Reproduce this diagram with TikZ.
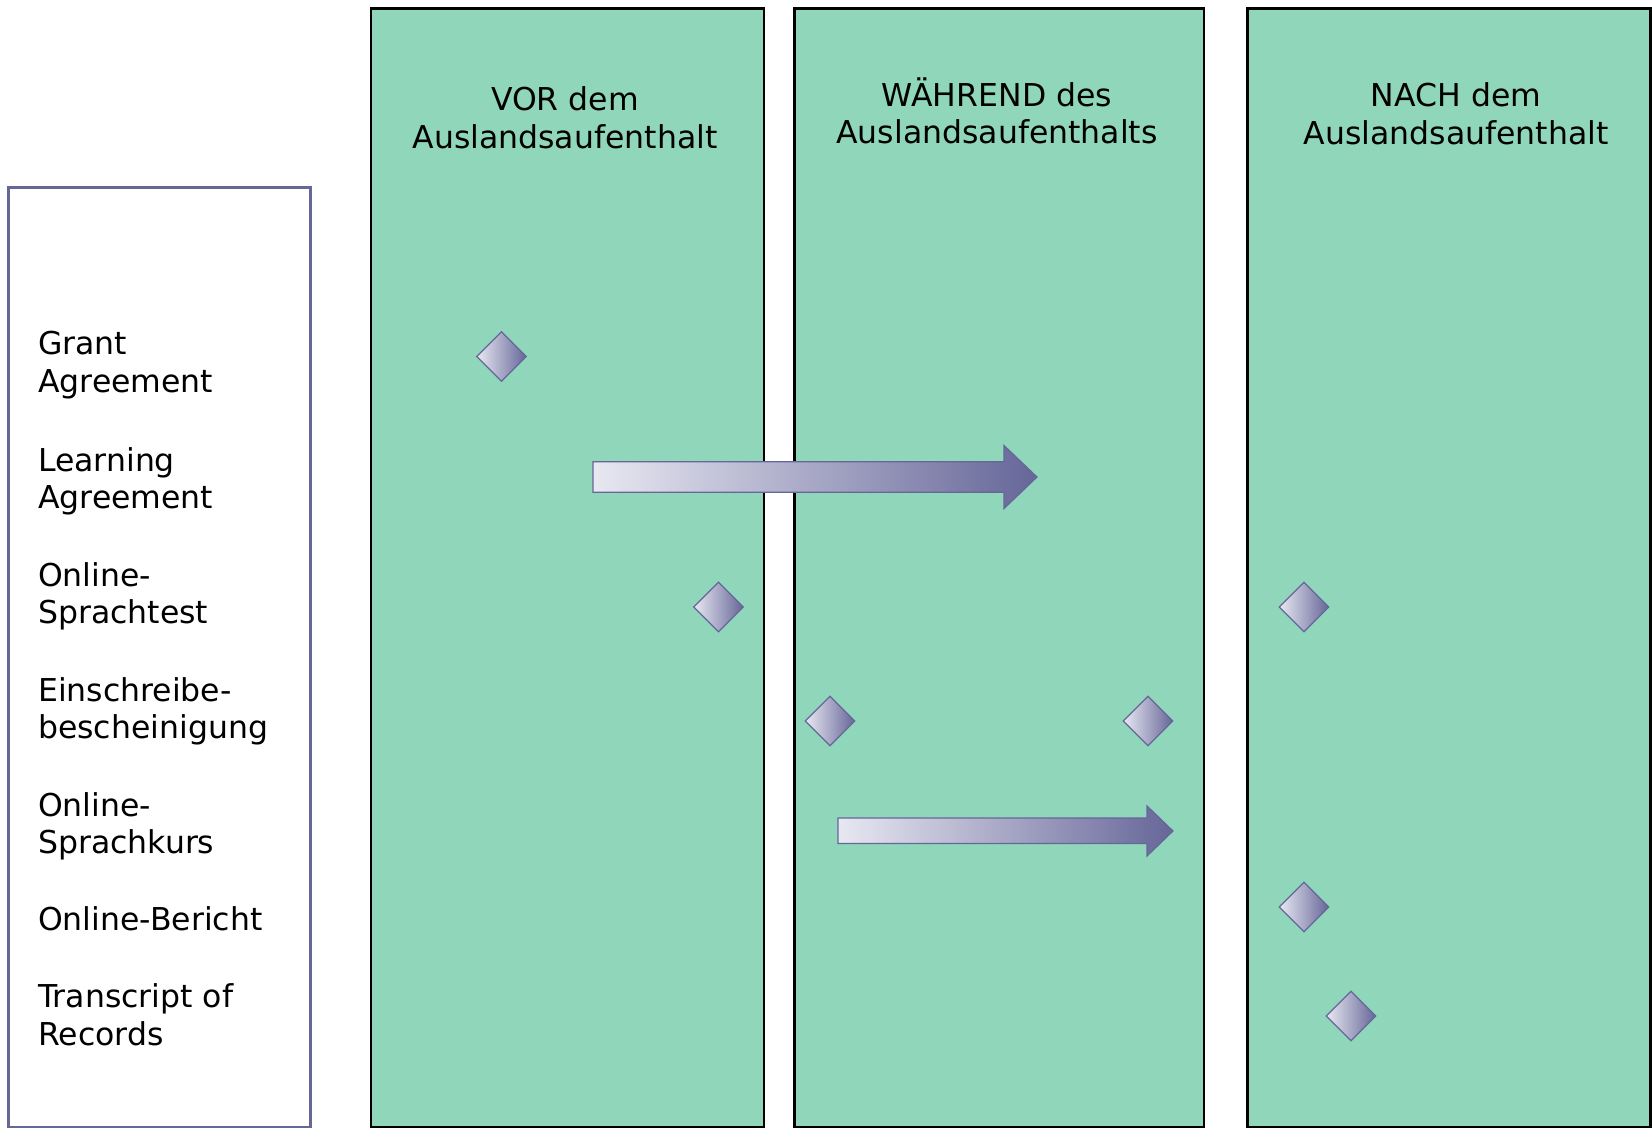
\documentclass[tikz,border=0pt]{standalone}
\usepackage{fontspec}
\setmainfont{DejaVu Sans}
\usetikzlibrary{shapes.geometric}
\definecolor{phGreen}{RGB}{143,214,187}
\definecolor{phPurple}{RGB}{102,102,153}
\definecolor{phLight}{RGB}{232,232,242}
\tikzset{
    base/.style={font=\fontsize{31.5}{37.5}\selectfont, text=black},
    phase/.style={draw=black, line width=2.5pt, fill=phGreen},
    docbox/.style={draw=phPurple, line width=2.5pt, fill=white},
    title/.style={base, align=center},
    doc/.style={base, align=left, anchor=base west, inner sep=0pt},
    marker/.style={diamond, aspect=1, minimum size=50pt, inner sep=0pt,
                   draw=phPurple, line width=1.2pt, left color=phLight, right color=phPurple},
    span/.style={draw=phPurple, line width=1.2pt, left color=phLight, right color=phPurple}
}
\begin{document}
\begin{tikzpicture}[x=1pt, y=-1pt]
  \useasboundingbox (0,0) rectangle (1652,1131);

  % Documents list
  \draw[docbox] (8.5,187.5) rectangle (310.5,1127);
  \node[doc] (grant)    at (38,392.5)  {Grant\\Agreement};
  \node[doc] (learning) at (38,508.5)  {Learning\\Agreement};
  \node[doc] (test)     at (38,623.5)  {Online-\\Sprachtest};
  \node[doc] (enrol)    at (38,738.5)  {Einschreibe-\\bescheinigung};
  \node[doc] (course)   at (38,853.5)  {Online-\\Sprachkurs};
  \node[doc] (report)   at (38,930)    {Online-Bericht};
  \node[doc] (tor)      at (38,1045)   {Transcript of\\Records};

  % Phases
  \draw[phase] (371,8.5) rectangle (764,1127);
  \draw[phase] (794.5,8.5) rectangle (1204,1127);
  \draw[phase] (1247.5,8.5) rectangle (1650.5,1127);
  \node[title] (before) at (565,118)  {VOR dem\\Auslandsaufenthalt};
  \node[title] (during) at (997,111)  {WÄHREND des\\Auslandsaufenthalts};
  \node[title] (after)  at (1456,114) {NACH dem\\Auslandsaufenthalt};

  % Learning Agreement and Online-Sprachkurs span phases
  \path[span] (593,461.7) -- (1004,461.7) -- (1004,445.5) -- (1037,477)
    -- (1004,508.5) -- (1004,492.3) -- (593,492.3) -- cycle;
  \path[span] (838,818) -- (1147,818) -- (1147,806) -- (1173,831)
    -- (1147,856) -- (1147,843.5) -- (838,843.5) -- cycle;

  % Markers
  \node[marker] (m1) at (501.5,356.5) {};
  \node[marker] (m2) at (718.5,607)   {};
  \node[marker] (m3) at (830,721)     {};
  \node[marker] (m4) at (1148,721)    {};
  \node[marker] (m5) at (1304,607)    {};
  \node[marker] (m6) at (1304,907)    {};
  \node[marker] (m7) at (1351,1016)   {};
\end{tikzpicture}
\end{document}
